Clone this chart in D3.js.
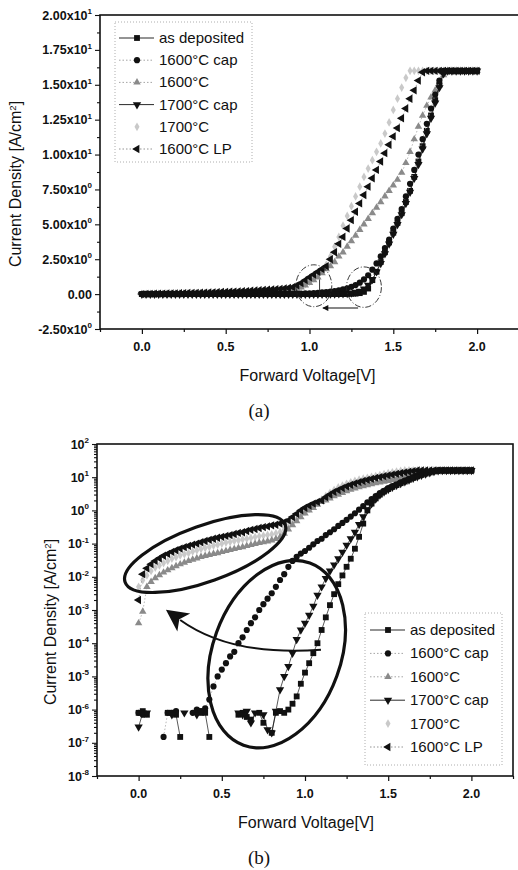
<!DOCTYPE html>
<html>
<head>
<meta charset="utf-8">
<script src="https://cdn.jsdelivr.net/npm/d3@7"></script>
<style>
	body { margin: 0; background: #fff; }
	svg text { font-family: "Liberation Sans", Arial, sans-serif; fill: #111; }
	.tick-label { font-size: 12.5px; font-weight: bold; }
	.axis-title { font-size: 16px; }
	.legend-text { font-size: 15px; }
	.caption { font-family: "Liberation Serif", serif; font-size: 19px; }
</style>
</head>
<body>
<div id="chart"></div>
<script>
"use strict";

// forward voltage (V), shared by every curve
var volts = [0, 0.025, 0.05, 0.075, 0.1, 0.125, 0.15, 0.175, 0.2, 0.225,
	0.25, 0.275, 0.3, 0.325, 0.35, 0.375, 0.4, 0.425, 0.45, 0.475,
	0.5, 0.525, 0.55, 0.575, 0.6, 0.625, 0.65, 0.675, 0.7, 0.725,
	0.75, 0.775, 0.8, 0.825, 0.85, 0.875, 0.9, 0.925, 0.95, 0.975,
	1.0, 1.025, 1.05, 1.075, 1.1, 1.125, 1.15, 1.175, 1.2, 1.225,
	1.25, 1.275, 1.3, 1.325, 1.35, 1.375, 1.4, 1.425, 1.45, 1.475,
	1.5, 1.525, 1.55, 1.575, 1.6, 1.625, 1.65, 1.675, 1.7, 1.725,
	1.75, 1.775, 1.8, 1.825, 1.85, 1.875, 1.9, 1.925, 1.95, 1.975,
	2.0];

// current density (A/cm2) - negative readings are noise, hidden on the log plot
var jAsDeposited = [8e-7, 9e-7, 7e-7, -4e-7, -6e-7, -3e-7, -5e-7, 8e-7, 8e-7, 7e-7,
	1.5e-7, -2e-7, -5e-7, -4e-7, 9e-7, 8e-7, 8e-7, 1.5e-7, -3e-7, -6e-7,
	-2e-7, -5e-7, -4e-7, -3e-7, 7e-7, 8e-7, 6e-7, 5e-7, -3e-7, 8e-7,
	4e-7, -2e-7, 2e-7, 8e-7, 9e-7, 8e-7, 1e-6, 1.5e-6, 2.5e-6, 6e-6,
	1.3e-5, 2.5e-5, 5e-5, 1e-4, 2.5e-4, 6e-4, 1.4e-3, 3e-3, 6e-3, 1.1e-2,
	2e-2, 3.5e-2, 7e-2, 0.16, 0.4, 1.0, 1.6, 2.3, 3.0, 3.7,
	4.4, 5.1, 5.8, 6.6, 7.4, 8.4, 9.5, 10.6, 11.7, 12.8,
	13.9, 15.0, 15.9, 16.0, 16.0, 16.0, 16.0, 16.0, 16.0, 16.0,
	16.0];

var jCap1600 = [8e-7, 7e-7, -3e-7, -5e-7, -2e-7, -4e-7, 1.5e-7, 8e-7, 8e-7, 9e-7,
	-3e-7, -5e-7, -2e-7, 8e-7, 1e-6, 9e-7, 1.1e-6, 2e-6, 5e-6, 1e-5,
	1.6e-5, 2.5e-5, 4e-5, 5.5e-5, 1e-4, 1.5e-4, 2.5e-4, 4e-4, 6e-4, 1e-3,
	1.5e-3, 2.2e-3, 3.2e-3, 5e-3, 8e-3, 1.2e-2, 2e-2, 3e-2, 4e-2, 5e-2,
	6e-2, 7.5e-2, 9.5e-2, 0.12, 0.14, 0.18, 0.22, 0.27, 0.34, 0.42,
	0.52, 0.65, 0.82, 1.05, 1.35, 1.75, 2.2, 2.7, 3.3, 3.9,
	4.7, 5.4, 6.1, 7.0, 7.9, 8.9, 10.0, 11.1, 12.2, 13.3,
	14.3, 15.3, 16.0, 16.0, 16.0, 16.0, 16.0, 16.0, 16.0, 16.0,
	16.0];

var j1600 = [4e-4, 9e-4, 5e-3, 7.1e-3, 9.1e-3, 1.12e-2, 1.35e-2, 1.58e-2, 1.82e-2, 2.1e-2,
	2.4e-2, 2.7e-2, 3.0e-2, 3.3e-2, 3.6e-2, 4.0e-2, 4.3e-2, 4.6e-2, 4.9e-2, 5.2e-2,
	5.6e-2, 6.0e-2, 6.5e-2, 6.9e-2, 7.4e-2, 7.9e-2, 8.5e-2, 9.1e-2, 9.8e-2, 0.105,
	0.11, 0.117, 0.126, 0.138, 0.158, 0.2, 0.27, 0.36, 0.48, 0.63,
	0.81, 1.0, 1.2, 1.5, 1.8, 2.0, 2.3, 2.7, 3.0, 3.4,
	3.8, 4.2, 4.6, 5.0, 5.4, 5.8, 6.2, 6.6, 7.0, 7.4,
	7.8, 8.2, 8.7, 9.4, 10.2, 11.1, 12.0, 12.8, 13.5, 14.1,
	14.6, 15.2, 15.7, 16.0, 16.0, 16.0, 16.0, 16.0, 16.0, 16.0,
	16.0];

var jCap1700 = [3e-7, 8e-7, 8e-7, -4e-7, -3e-7, -5e-7, -2e-7, -4e-7, 7e-7, -3e-7,
	-2e-7, 8e-7, -4e-7, -3e-7, 7e-7, 9e-7, -2e-7, -5e-7, -3e-7, -4e-7,
	-2e-7, -3e-7, -5e-7, -2e-7, 8e-7, 7e-7, 9e-7, 4e-7, 8e-7, -3e-7,
	7e-7, 2.5e-7, 2e-7, 9e-7, 4e-6, 1e-5, 2e-5, 5e-5, 1.3e-4, 2.5e-4,
	4e-4, 7e-4, 1.3e-3, 2.8e-3, 5e-3, 9e-3, 1.5e-2, 2.3e-2, 3.5e-2, 5.5e-2,
	9e-2, 0.14, 0.22, 0.38, 0.65, 1.05, 1.6, 2.2, 2.9, 3.6,
	4.3, 5.0, 5.7, 6.5, 7.3, 8.3, 9.3, 10.4, 11.5, 12.6,
	13.7, 14.8, 15.8, 16.0, 16.0, 16.0, 16.0, 16.0, 16.0, 16.0,
	16.0];

var j1700 = [5e-3, 7.9e-3, 1.1e-2, 1.5e-2, 1.9e-2, 2.2e-2, 2.6e-2, 3.0e-2, 3.5e-2, 3.9e-2,
	4.4e-2, 4.8e-2, 5.2e-2, 5.8e-2, 6.3e-2, 6.9e-2, 7.4e-2, 7.9e-2, 8.7e-2, 9.3e-2,
	0.1, 0.107, 0.112, 0.12, 0.126, 0.135, 0.141, 0.148, 0.158, 0.166,
	0.174, 0.182, 0.19, 0.204, 0.224, 0.263, 0.331, 0.427, 0.55, 0.71,
	0.89, 1.12, 1.38, 1.7, 2.1, 2.7, 3.4, 4.1, 4.9, 5.6,
	6.3, 7.0, 7.7, 8.4, 9.0, 9.6, 10.2, 10.8, 11.5, 12.3,
	13.2, 14.0, 14.8, 15.5, 16.0, 16.0, 16.0, 16.0, 16.0, 16.0,
	16.0, 16.0, 16.0, 16.0, 16.0, 16.0, 16.0, 16.0, 16.0, 16.0,
	16.0];

var jLP1600 = [2e-3, 1.2e-2, 1.8e-2, 2.4e-2, 3.0e-2, 3.6e-2, 4.3e-2, 4.9e-2, 5.6e-2, 6.3e-2,
	7.1e-2, 7.8e-2, 8.5e-2, 9.3e-2, 0.1, 0.11, 0.12, 0.13, 0.14, 0.15,
	0.16, 0.17, 0.18, 0.195, 0.21, 0.22, 0.24, 0.26, 0.275, 0.295,
	0.315, 0.33, 0.355, 0.37, 0.4, 0.44, 0.5, 0.63, 0.79, 1.0,
	1.2, 1.4, 1.6, 1.8, 2.0, 2.5, 3.0, 3.6, 4.1, 4.7,
	5.3, 5.9, 6.5, 7.1, 7.7, 8.3, 8.9, 9.5, 10.1, 10.7,
	11.3, 11.9, 12.6, 13.3, 14.0, 14.6, 15.3, 15.9, 16.0, 16.0,
	16.0, 16.0, 16.0, 16.0, 16.0, 16.0, 16.0, 16.0, 16.0, 16.0,
	16.0];

var seriesNames = ["as deposited", "1600°C cap", "1600°C", "1700°C cap", "1700°C", "1600°C LP"];
var seriesValues = [jAsDeposited, jCap1600, j1600, jCap1700, j1700, jLP1600];

// ticks
var xTicks = [0, 0.5, 1.0, 1.5, 2.0];
var xMinorTicks = [-0.25, 0.25, 0.75, 1.25, 1.75, 2.25];
var linTicks = [-2.5, 0, 2.5, 5, 7.5, 10, 12.5, 15, 17.5, 20];
var linTickMantissa = ["-2.50x10", "0.00", "2.50x10", "5.00x10", "7.50x10", "1.00x10", "1.25x10", "1.50x10", "1.75x10", "2.00x10"];
var linTickPower = ["0", "", "0", "0", "0", "1", "1", "1", "1", "1"];
var logTickPowers = [-8, -7, -6, -5, -4, -3, -2, -1, 0, 1, 2];

// marker looks, one per series
var looks = [
	{ shape: d3.symbolSquare, size: 34, rot: 0, fill: "#111", line: "#111", dash: null },
	{ shape: d3.symbolCircle, size: 30, rot: 0, fill: "#111", line: "#9a9a9a", dash: "1.5,2" },
	{ shape: d3.symbolTriangle, size: 24, rot: 0, fill: "#8a8a8a", line: "#9a9a9a", dash: "1.5,2" },
	{ shape: d3.symbolTriangle, size: 30, rot: 180, fill: "#111", line: "#111", dash: null },
	{ shape: d3.symbolDiamond, size: 22, rot: 0, fill: "#c9c9c9", line: "none", dash: null },
	{ shape: d3.symbolTriangle, size: 30, rot: -90, fill: "#111", line: "#888", dash: "1.5,2" }
];
var drawOrder = [4, 2, 0, 1, 3, 5];

var svg = d3.select("#chart")
	.append("svg")
	.attr("width", 518)
	.attr("height", 870);

svg.append("rect").attr("width", 518).attr("height", 870).attr("fill", "#fff");

function points(k) {
	return volts.map(function(v, i) { return { v: v, j: seriesValues[k][i] }; });
}

function addSuper(sel, base, sup, size) {
	sel.append("tspan").text(base);
	if (sup !== "") {
		sel.append("tspan").attr("dy", -5.5).style("font-size", size + "px").text(sup);
	}
}

function drawPanel(opt) {
	var x = opt.x, y = opt.y;
	var g = svg.append("g");

	// curves
	drawOrder.forEach(function(k) {
		var look = looks[k];
		var pts = points(k).filter(function(d) { return opt.log ? d.j > 0 : true; });
		if (look.line !== "none") {
			g.append("path")
				.datum(points(k))
				.attr("fill", "none")
				.attr("stroke", look.line)
				.attr("stroke-width", 0.7)
				.attr("stroke-dasharray", look.dash)
				.attr("d", d3.line()
					.defined(function(d) { return opt.log ? d.j > 0 : true; })
					.x(function(d) { return x(d.v); })
					.y(function(d) { return y(d.j); }));
		}
		g.selectAll(null)
			.data(pts)
			.enter()
			.append("path")
			.attr("d", d3.symbol().type(look.shape).size(look.size))
			.attr("transform", function(d) {
				return "translate(" + x(d.v) + "," + y(d.j) + ") rotate(" + look.rot + ")";
			})
			.attr("fill", look.fill);
	});

	// frame
	var x0 = x.range()[0], x1 = x.range()[1], y0 = y.range()[0], y1 = y.range()[1];
	g.append("rect")
		.attr("x", x0).attr("y", y1)
		.attr("width", x1 - x0).attr("height", y0 - y1)
		.attr("fill", "none").attr("stroke", "#111").attr("stroke-width", 1.6);

	// x axis ticks
	var xa = g.append("g").attr("transform", "translate(0," + y0 + ")");
	xa.call(d3.axisBottom(x).tickValues(xTicks).tickSize(5).tickFormat(""));
	xa.append("g").call(d3.axisBottom(x).tickValues(xMinorTicks).tickSize(3).tickFormat(""));
	xa.selectAll(".domain").remove();
	xa.selectAll("line").attr("stroke", "#111").attr("stroke-width", 1.2);
	g.selectAll(null)
		.data(xTicks)
		.enter()
		.append("text")
		.attr("class", "tick-label")
		.attr("x", function(d) { return x(d); })
		.attr("y", y0 + 22)
		.attr("text-anchor", "middle")
		.text(d3.format(".1f"));

	// y axis ticks
	var ya = g.append("g").attr("transform", "translate(" + x0 + ",0)");
	ya.call(d3.axisLeft(y).tickValues(opt.yTicks).tickSize(5).tickFormat(""));
	ya.append("g").call(d3.axisLeft(y).tickValues(opt.yMinor).tickSize(3).tickFormat(""));
	ya.selectAll(".domain").remove();
	ya.selectAll("line").attr("stroke", "#111").attr("stroke-width", 1.1);
	opt.yTicks.forEach(function(t, i) {
		var lab = g.append("text")
			.attr("class", "tick-label")
			.attr("x", x0 - opt.labelGap)
			.attr("y", y(t) + 4.5)
			.attr("text-anchor", "end");
		addSuper(lab, opt.yLabel[i], opt.ySup[i], 8);
	});

	// axis titles
	g.append("text")
		.attr("class", "axis-title")
		.attr("x", (x0 + 519) / 2 - 2)
		.attr("y", y0 + 52)
		.attr("text-anchor", "middle")
		.text("Forward Voltage[V]");
	var yt = g.append("text")
		.attr("class", "axis-title")
		.attr("transform", "translate(" + opt.titleX + "," + ((y0 + y1) / 2 + 12) + ") rotate(-90)")
		.attr("text-anchor", "middle");
	addSuper(yt, "Current Density [A/cm", "2", 9.5);
	yt.append("tspan").attr("dy", 5.5).text("]");

	// legend
	var lg = g.append("g");
	lg.append("rect")
		.attr("x", opt.legend.x).attr("y", opt.legend.y)
		.attr("width", opt.legend.w).attr("height", opt.legend.h)
		.attr("fill", "#fff").attr("stroke", "#999")
		.attr("stroke-width", 0.8).attr("stroke-dasharray", "1,2");
	seriesNames.forEach(function(name, k) {
		var look = looks[k];
		var cy = opt.legend.y + opt.legend.first + k * opt.legend.step;
		var sx = opt.legend.x + opt.legend.sym;
		if (look.line !== "none") {
			lg.append("line")
				.attr("x1", sx - 18).attr("x2", sx + 17)
				.attr("y1", cy).attr("y2", cy)
				.attr("stroke", look.line)
				.attr("stroke-width", 0.9)
				.attr("stroke-dasharray", look.dash);
		}
		lg.append("path")
			.attr("d", d3.symbol().type(look.shape).size(look.size))
			.attr("transform", "translate(" + sx + "," + cy + ") rotate(" + look.rot + ")")
			.attr("fill", look.fill);
		lg.append("text")
			.attr("class", "legend-text")
			.attr("x", sx + 22)
			.attr("y", cy + 5)
			.text(name);
	});

	return g;
}

// ---------- (a) linear ----------
var xA = d3.scaleLinear().domain([-0.25, 2.25]).range([100, 519]);
var yA = d3.scaleLinear().domain([-2.5, 20]).range([329, 15]);
var linMinor = [-1.25, 1.25, 3.75, 6.25, 8.75, 11.25, 13.75, 16.25, 18.75];

var gA = drawPanel({
	x: xA, y: yA, log: false,
	yTicks: linTicks, yMinor: linMinor,
	yLabel: linTickMantissa, ySup: linTickPower,
	labelGap: 8, titleX: 21,
	legend: { x: 115, y: 22, w: 137, h: 140, first: 16, step: 22.2, sym: 22 }
});

// dash-dot circles round the two knees and the shift arrow
var knees = [{ v: 1.026, j: 0.6, rv: 0.107, rj: 1.5 }, { v: 1.325, j: 0.5, rv: 0.104, rj: 1.45 }];
knees.forEach(function(c) {
	gA.append("ellipse")
		.attr("cx", xA(c.v)).attr("cy", yA(c.j))
		.attr("rx", xA(c.v + c.rv) - xA(c.v))
		.attr("ry", yA(c.j - c.rj) - yA(c.j))
		.attr("fill", "none").attr("stroke", "#222")
		.attr("stroke-width", 0.9).attr("stroke-dasharray", "6,2,1,2");
});
gA.append("line")
	.attr("x1", xA(1.06)).attr("x2", xA(1.06))
	.attr("y1", yA(1.05)).attr("y2", yA(-0.05))
	.attr("stroke", "#222").attr("stroke-width", 0.9);

svg.append("defs").append("marker")
	.attr("id", "smallHead")
	.attr("viewBox", "0 0 10 10").attr("refX", 9).attr("refY", 5)
	.attr("markerWidth", 8).attr("markerHeight", 6)
	.attr("markerUnits", "userSpaceOnUse")
	.attr("orient", "auto")
	.append("path").attr("d", "M0,0L10,5L0,10Z").attr("fill", "#111");
gA.append("line")
	.attr("x1", xA(1.29)).attr("x2", xA(1.08))
	.attr("y1", yA(-1.0)).attr("y2", yA(-1.0))
	.attr("stroke", "#111").attr("stroke-width", 1.1)
	.attr("marker-end", "url(#smallHead)");

svg.append("text").attr("class", "caption")
	.attr("x", 259).attr("y", 417).attr("text-anchor", "middle").text("(a)");

// ---------- (b) log ----------
var xB = d3.scaleLinear().domain([-0.25, 2.25]).range([97, 513]);
var yB = d3.scaleLog().domain([1e-8, 1e2]).range([776, 444]);
var logMinor = [];
logTickPowers.slice(0, -1).forEach(function(p) {
	for (var m = 2; m < 10; m++) logMinor.push(m * Math.pow(10, p));
});

var gB = drawPanel({
	x: xB, y: yB, log: true,
	yTicks: logTickPowers.map(function(p) { return Math.pow(10, p); }),
	yMinor: logMinor,
	yLabel: logTickPowers.map(function() { return "10"; }),
	ySup: logTickPowers.map(function(p) { return String(p); }),
	labelGap: 8, titleX: 56,
	legend: { x: 365, y: 613, w: 137, h: 152, first: 17, step: 23.4, sym: 23 }
});

// thick ellipses and the curved arrow
var rings = [
	{ v: 0.40, j: Math.pow(10, -1.3), rx: 85, ry: 28, rot: -19.7 },
	{ v: 0.83, j: Math.pow(10, -4.33), rx: 97, ry: 64, rot: -70 }
];
rings.forEach(function(r) {
	gB.append("ellipse")
		.attr("transform", "translate(" + xB(r.v) + "," + yB(r.j) + ") rotate(" + r.rot + ")")
		.attr("rx", r.rx).attr("ry", r.ry)
		.attr("fill", "none").attr("stroke", "#111").attr("stroke-width", 3.2);
});

svg.select("defs").append("marker")
	.attr("id", "bigHead")
	.attr("viewBox", "0 0 10 10").attr("refX", 2).attr("refY", 5)
	.attr("markerWidth", 26).attr("markerHeight", 22)
	.attr("markerUnits", "userSpaceOnUse")
	.attr("orient", "auto")
	.append("path").attr("d", "M0,0L10,5L0,10L2.5,5Z").attr("fill", "#111");
var tail = [xB(1.096), yB(Math.pow(10, -4.2))];
var ctrl = [xB(0.554), yB(Math.pow(10, -4.4))];
var tip = [xB(0.25), yB(Math.pow(10, -3.3))];
gB.append("path")
	.attr("d", "M" + tail + "Q" + ctrl + " " + tip)
	.attr("fill", "none").attr("stroke", "#111").attr("stroke-width", 2)
	.attr("marker-end", "url(#bigHead)");

svg.append("text").attr("class", "caption")
	.attr("x", 259).attr("y", 864).attr("text-anchor", "middle").text("(b)");
</script>
</body>
</html>
